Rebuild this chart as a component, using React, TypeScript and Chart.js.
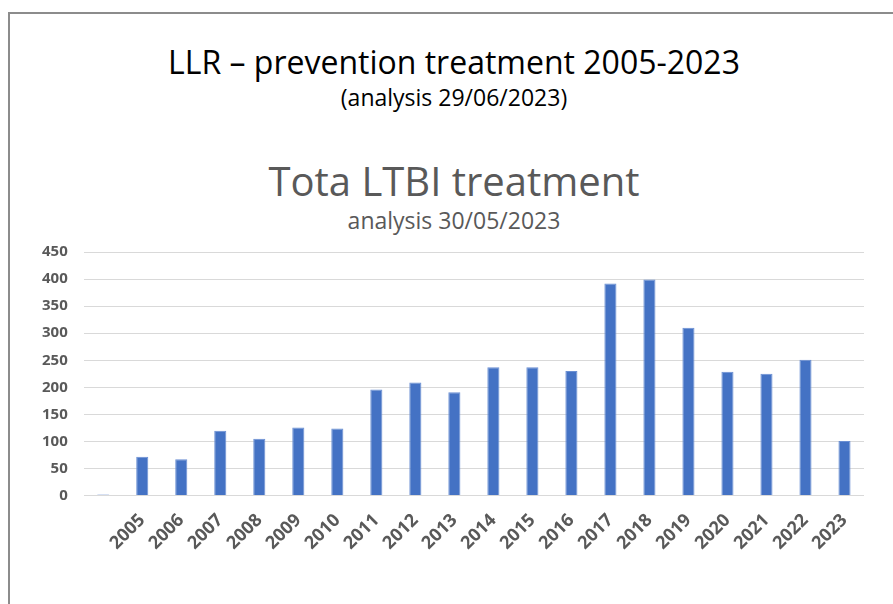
import React, { useEffect, useRef } from "react";
import { Chart, registerables } from "chart.js";

Chart.register(...registerables);

const categories = ["", "2005", "2006", "2007", "2008", "2009", "2010", "2011", "2012", "2013", "2014", "2015", "2016", "2017", "2018", "2019", "2020", "2021", "2022", "2023"];
const treatments = [2, 72, 67, 120, 105, 126, 124, 196, 209, 191, 237, 237, 230, 392, 399, 310, 229, 225, 251, 101];

const slideTitle = "LLR \u2013 prevention treatment 2005-2023";
const slideSubtitle = "(analysis 29/06/2023)";
const chartTitle = "Tota LTBI treatment";
const chartSubtitle = "analysis 30/05/2023";

const FONT = "'Open Sans', 'DejaVu Sans', sans-serif";

const textStyle = (top: number, size: number, lh: number, color: string): React.CSSProperties => ({
  position: "absolute",
  left: 15,
  width: 878,
  top,
  textAlign: "center",
  fontFamily: FONT,
  fontSize: size,
  lineHeight: `${lh}px`,
  color,
  whiteSpace: "nowrap",
});

export default function App() {
  const canvasRef = useRef<HTMLCanvasElement | null>(null);

  useEffect(() => {
    if (!canvasRef.current) return;
    const chart = new Chart(canvasRef.current, {
      type: "bar",
      data: {
        labels: categories,
        datasets: [
          {
            label: "LTBI treatment",
            data: treatments,
            backgroundColor: "#4472C4",
            borderColor: "#6a8fd3",
            borderWidth: 1,
            barPercentage: 0.31,
            categoryPercentage: 1,
          },
        ],
      },
      options: {
        animation: false,
        responsive: false,
        maintainAspectRatio: false,
        layout: { padding: { left: 11, right: 29, top: 0, bottom: 44 } },
        plugins: {
          legend: { display: false },
          tooltip: { enabled: false },
          title: { display: false },
          subtitle: { display: false },
        },
        scales: {
          x: {
            grid: { display: false },
            border: { display: false },
            ticks: {
              color: "#595959",
              font: { family: FONT, size: 18, weight: "bold" },
              minRotation: 45,
              maxRotation: 45,
              autoSkip: false,
              padding: 6,
            },
          },
          y: {
            min: 0,
            max: 450,
            grid: { color: "#d9d9d9", drawTicks: false },
            border: { display: false },
            ticks: {
              stepSize: 50,
              color: "#595959",
              font: { family: FONT, size: 15, weight: "bold" },
              padding: 16,
            },
          },
        },
      },
    });
    return () => chart.destroy();
  }, []);

  return (
    <div style={{ position: "absolute", left: 0, top: 0, width: 893, height: 604, background: "#fff", overflow: "hidden" }}>
      <div style={{ position: "absolute", left: 8, top: 12, width: 900, height: 700, borderLeft: "2px solid #8c8c8c", borderTop: "2px solid #8c8c8c" }} />
      <div style={textStyle(44, 32, 36, "#000")}>{slideTitle}</div>
      <div style={textStyle(84, 23, 26, "#000")}>{slideSubtitle}</div>
      <div style={textStyle(157, 40, 48, "#595959")}>{chartTitle}</div>
      <div style={textStyle(206, 23, 28, "#595959")}>{chartSubtitle}</div>
      <canvas ref={canvasRef} width={878} height={377} style={{ position: "absolute", left: 15, top: 227, width: 878, height: 377 }} />
    </div>
  );
}
